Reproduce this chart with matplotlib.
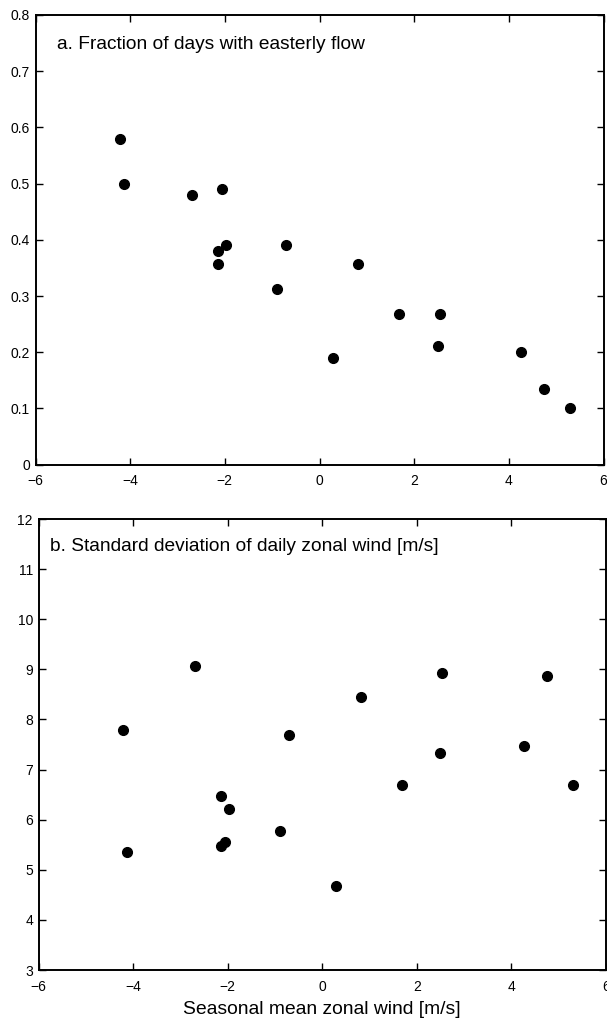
import numpy as np
import matplotlib
matplotlib.use("Agg")
import matplotlib.pyplot as plt

plt.rcParams['font.family'] = ['Liberation Sans', 'DejaVu Sans']

# seasonal mean zonal wind for each season [m/s]
mean_wind = [-4.21, -4.12, -2.69, -2.15, -2.15, -2.05, -1.97, -0.90, -0.71,
             0.29, 0.82, 1.69, 2.50, 2.54, 4.26, 4.75, 5.30]
# fraction of days with easterly flow
easterly_frac = [0.579, 0.500, 0.479, 0.380, 0.357, 0.490, 0.390, 0.312, 0.390,
                 0.189, 0.357, 0.268, 0.211, 0.268, 0.201, 0.134, 0.100]
# standard deviation of daily zonal wind [m/s]
wind_std = [7.78, 5.35, 9.06, 6.47, 5.48, 5.55, 6.21, 5.78, 7.69,
            4.67, 8.45, 6.70, 7.33, 8.93, 7.48, 8.86, 6.70]

x_ticks = [-6, -4, -2, 0, 2, 4, 6]
frac_ticks = [0, 0.1, 0.2, 0.3, 0.4, 0.5, 0.6, 0.7, 0.8]
std_ticks = [3, 4, 5, 6, 7, 8, 9, 10, 11, 12]

W, H = 607, 1018
fig = plt.figure(figsize=(W / 100, H / 100), dpi=100)


def box(l, t, r, b):
    return [l / W, 1 - b / H, (r - l) / W, (b - t) / H]


def style(ax, yticks, ylabels):
    ax.set_xlim(-6, 6)
    ax.set_xticks(x_ticks)
    ax.set_xticklabels([str(v).replace('-', '\u2212') for v in x_ticks])
    ax.set_ylim(yticks[0], yticks[-1])
    ax.set_yticks(yticks)
    ax.set_yticklabels(ylabels)
    ax.tick_params(direction='in', length=5, width=1, top=True, right=True,
                   labelsize=10, colors='black')
    ax.tick_params(axis='x', pad=7)
    ax.tick_params(axis='y', pad=4)
    for s in ax.spines.values():
        s.set_linewidth(1.4)


ax1 = fig.add_axes(box(35.5, 15, 603.5, 464.6))
ax1.plot(mean_wind, easterly_frac, 'o', color='black', markersize=7)
style(ax1, frac_ticks, ['0'] + ['%.1f' % v for v in frac_ticks[1:]])
ax1.text(0.037, 0.935, 'a. Fraction of days with easterly flow',
         transform=ax1.transAxes, fontsize=13.8, va='center', ha='left')

ax2 = fig.add_axes(box(38.5, 519, 606, 970))
ax2.plot(mean_wind, wind_std, 'o', color='black', markersize=7)
style(ax2, std_ticks, [str(v) for v in std_ticks])
ax2.text(0.02, 0.939, 'b. Standard deviation of daily zonal wind [m/s]',
         transform=ax2.transAxes, fontsize=13.8, va='center', ha='left')
ax2.set_xlabel('Seasonal mean zonal wind [m/s]', fontsize=13.9, labelpad=5)

fig.savefig('out.png', dpi=100)
